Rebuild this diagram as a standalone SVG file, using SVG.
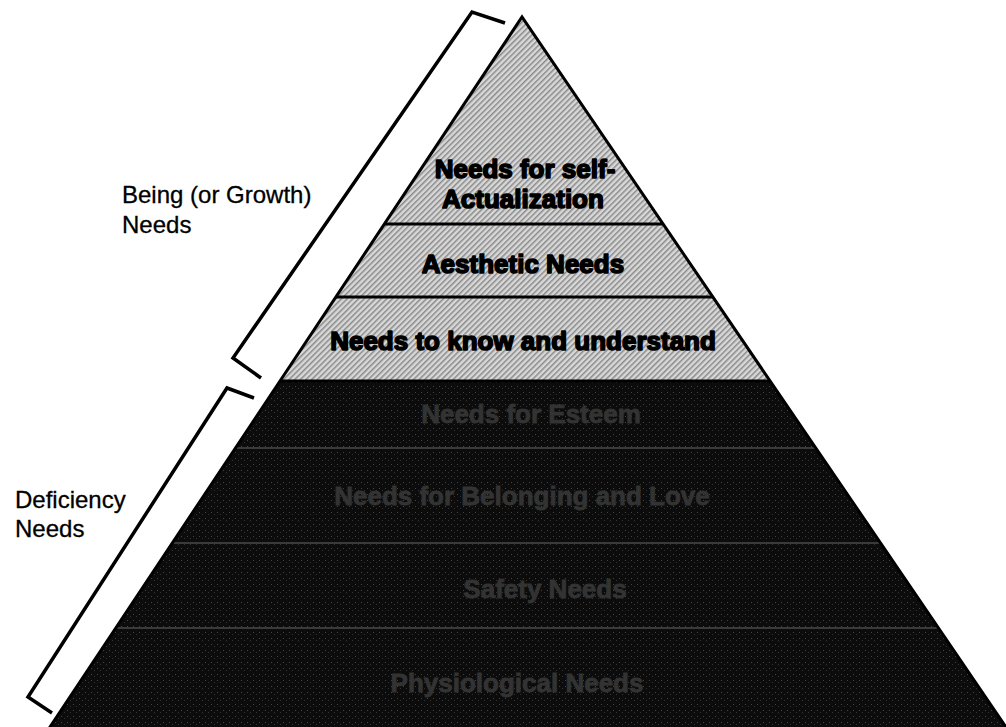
<svg xmlns="http://www.w3.org/2000/svg" width="1006" height="727" viewBox="0 0 1006 727">
  <style>
    .lbl { font-family: "Liberation Sans", Arial, sans-serif; font-size: 24px; fill: #000; stroke: #000; stroke-width: 0.3; }
    .lt { font-family: "Liberation Sans", Arial, sans-serif; font-size: 26px; font-weight: bold; fill: #000; stroke: #000; stroke-width: 1.6; stroke-linejoin: round; text-anchor: middle; }
    .dk { font-family: "Liberation Sans", Arial, sans-serif; font-size: 26px; font-weight: bold; fill: #333; stroke: #333; stroke-width: 0.8; text-anchor: middle; }
    .sep { stroke: #000; stroke-width: 3; }
    .dsep { stroke: #3a3a3a; stroke-width: 2; }
    .br { fill: none; stroke: #000; stroke-width: 3.5; stroke-linejoin: miter; }
  </style>
  <defs>
    <pattern id="hatch" width="4" height="4" patternUnits="userSpaceOnUse" patternTransform="rotate(45)">
      <rect width="4" height="4" fill="#d8d8d8"/>
      <rect width="1.5" height="4" fill="#8a8a8a"/>
    </pattern>
    <pattern id="dark" width="6" height="6" patternUnits="userSpaceOnUse">
      <rect width="6" height="6" fill="#0c0c0c"/>
      <rect x="1" y="2" width="1" height="1" fill="#444"/>
      <rect x="4" y="4" width="1" height="1" fill="#333"/>
    </pattern>
  </defs>
  <rect width="1006" height="727" fill="#fff"/>

  <g id="pyramid">
    <polygon id="top-part" points="522,17 280,381 770,381" fill="url(#hatch)"/>
    <polygon id="bottom-part" points="280,381 770,381 1008,730 48,730" fill="url(#dark)"/>
    <line class="sep" x1="384" y1="224" x2="663" y2="224"/>
    <line class="sep" x1="336" y1="297" x2="713" y2="297"/>
    <line class="sep" x1="280" y1="381" x2="770" y2="381"/>
    <line class="dsep" x1="236" y1="448" x2="816" y2="448"/>
    <line class="dsep" x1="172" y1="543" x2="881" y2="543"/>
    <line class="dsep" x1="115" y1="628" x2="939" y2="628"/>
    <polyline points="48,730 522,17 1008,730" fill="none" stroke="#000" stroke-width="3" stroke-linejoin="miter"/>
  </g>

  <g id="level-self-actualization">
    <text class="lt" x="525" y="178">Needs for self-</text>
    <text class="lt" x="523" y="208">Actualization</text>
  </g>
  <g id="level-aesthetic">
    <text class="lt" x="523" y="273">Aesthetic Needs</text>
  </g>
  <g id="level-know">
    <text class="lt" x="523" y="350">Needs to know and understand</text>
  </g>
  <g id="level-esteem">
    <text class="dk" x="531" y="423">Needs for Esteem</text>
  </g>
  <g id="level-belonging">
    <text class="dk" x="522" y="505">Needs for Belonging and Love</text>
  </g>
  <g id="level-safety">
    <text class="dk" x="545" y="598">Safety Needs</text>
  </g>
  <g id="level-physiological">
    <text class="dk" x="517" y="692">Physiological Needs</text>
  </g>

  <g id="connectors">
    <path class="br" d="M505,23 L472,12 L233,358 L261,378"/>
    <path class="br" d="M254,398 L227,388 L28,697 L52,713"/>
  </g>

  <g id="label-being">
    <text class="lbl" x="122" y="203">Being (or Growth)</text>
    <text class="lbl" x="122" y="233">Needs</text>
  </g>
  <g id="label-deficiency">
    <text class="lbl" x="15" y="508">Deficiency</text>
    <text class="lbl" x="15" y="537">Needs</text>
  </g>
</svg>
